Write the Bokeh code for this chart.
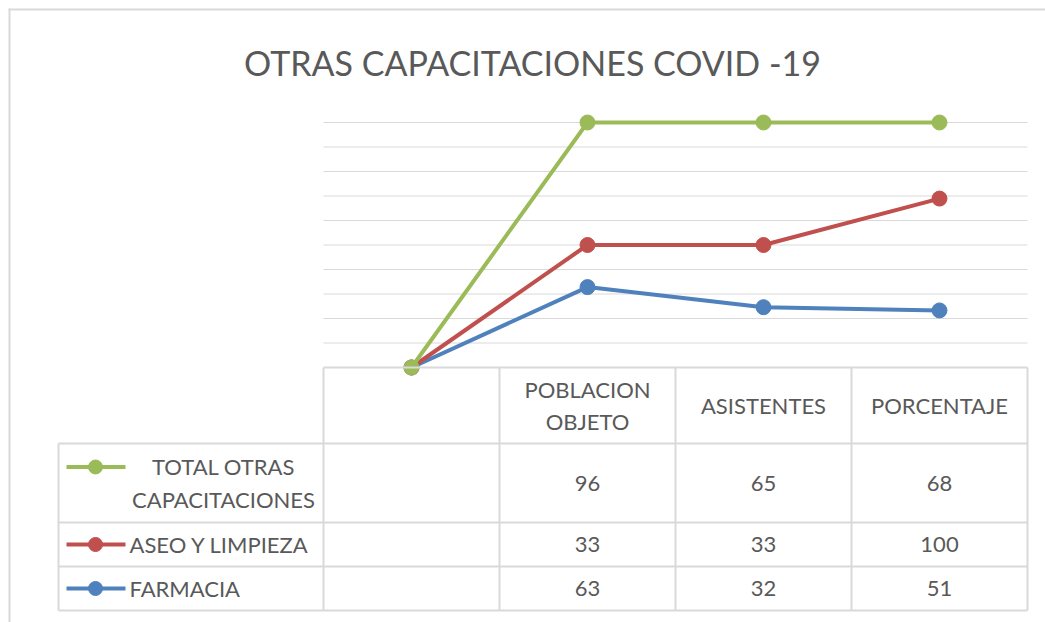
import textwrap
import numpy as np
from bokeh.plotting import figure
from bokeh.models import Range1d, ColumnDataSource
from bokeh.core.properties import value
from bokeh.embed import file_html
from bokeh.resources import INLINE

# ---------------- data ----------------
title = "OTRAS CAPACITACIONES COVID -19"
categories = ["", "POBLACION OBJETO", "ASISTENTES", "PORCENTAJE"]
series_names = ["TOTAL OTRAS CAPACITACIONES", "ASEO Y LIMPIEZA", "FARMACIA"]
total_otras = [None, 96, 65, 68]
aseo_limpieza = [None, 33, 33, 100]
farmacia = [None, 63, 32, 51]
series_values = [total_otras, aseo_limpieza, farmacia]
series_colors = ["#9BBB59", "#C0504D", "#4F81BD"]

# ---------------- layout helpers (pixel -> data) ----------------
W, H = 1045, 622
FL, FT = 8, 8          # chart border left / top (page px)
PX_X = 176.0           # pixels per category
PX_Y = 2.45            # pixels per percent
X0_PAGE = 323          # left of first category column (page px)
Y0_PAGE = 367          # 0 % line (page px)


def dx(page_x):
    return -0.5 + (page_x - X0_PAGE) / PX_X


def dy(page_y):
    return (Y0_PAGE - page_y) / PX_Y


p = figure(width=W, height=H, output_backend="svg", toolbar_location=None,
           x_range=Range1d(dx(0), dx(W)), y_range=Range1d(dy(H), dy(0)),
           x_axis_location=None, y_axis_location=None, min_border=0,
           background_fill_color="white", border_fill_color="white")
p.grid.visible = False
p.outline_line_color = None

FONT = value("Lato")
TXT = "#595959"
GRID = "#D9D9D9"
FS = "22px"
n = len(categories)
xs = np.arange(n)

# chart area border (left and top edges visible in the crop)
p.segment(x0=[dx(FL + 1), dx(FL)], x1=[dx(FL + 1), dx(W)],
          y0=[dy(FT), dy(FT + 1)], y1=[dy(H), dy(FT + 1)],
          line_color="#D9D9D9", line_width=2)

# ---------------- 100 % stacked values ----------------
vals = np.array([[0 if v is None else v for v in s] for s in series_values], dtype=float)
col_tot = vals.sum(axis=0)
safe = np.where(col_tot == 0, 1, col_tot)
stack = {}
cum = np.zeros(n)
for i in range(len(series_names) - 1, -1, -1):
    cum = cum + vals[i]
    stack[i] = np.where(col_tot == 0, 0, cum / safe * 100)

# ---------------- gridlines ----------------
gy = np.arange(10, 101, 10)
p.segment(x0=[-0.5] * len(gy), x1=[n - 0.5] * len(gy), y0=gy, y1=gy,
          line_color=GRID, line_width=1)

# ---------------- lines ----------------
for i in range(len(series_names) - 1, -1, -1):
    src = ColumnDataSource(dict(x=xs, y=stack[i]))
    p.line("x", "y", source=src, line_color=series_colors[i], line_width=4)
    p.scatter("x", "y", source=src, size=15, fill_color=series_colors[i],
              line_color=series_colors[i])

# ---------------- title ----------------
p.text(x=[dx(532)], y=[dy(62)], text=[title], text_font=FONT, text_font_size="34px",
       text_color=TXT, text_align="center", text_baseline="middle")

# ---------------- data table ----------------
row_edges = [367, 443, 522, 566, 610]
col_edges = [X0_PAGE + PX_X * k for k in range(n + 1)]
legend_left = 58

hx0, hx1, hy = [], [], []
for k, ry in enumerate(row_edges):
    hx0.append(dx(col_edges[0]) if k == 0 else dx(legend_left))
    hx1.append(dx(col_edges[-1]))
    hy.append(dy(ry))
p.segment(x0=hx0, x1=hx1, y0=hy, y1=hy, line_color=GRID, line_width=2)
vx, vy0, vy1 = [], [], []
for cx in col_edges:
    vx.append(dx(cx)); vy0.append(dy(row_edges[0])); vy1.append(dy(row_edges[-1]))
vx.append(dx(legend_left)); vy0.append(dy(row_edges[1])); vy1.append(dy(row_edges[-1]))
p.segment(x0=vx, x1=vx, y0=vy0, y1=vy1, line_color=GRID, line_width=2)

hdr = ["\n".join(textwrap.wrap(c, 12)) for c in categories]
p.text(x=xs, y=[dy(405)] * n, text=hdr, text_font=FONT, text_font_size=FS,
       text_color=TXT, text_align="center", text_baseline="middle",
       text_line_height=1.2)

row_centers = [(row_edges[k + 1] + row_edges[k + 2]) / 2 for k in range(len(series_names))]
for i, name in enumerate(series_names):
    cy = dy(row_centers[i])
    txt = ["" if v is None else str(v) for v in series_values[i]]
    p.text(x=xs, y=[cy] * n, text=txt, text_font=FONT, text_font_size=FS,
           text_color=TXT, text_align="center", text_baseline="middle")
    lines = textwrap.wrap(name, 16)
    key_y = cy if len(lines) == 1 else dy(row_centers[i] - 16)
    p.segment(x0=[dx(66)], x1=[dx(125)], y0=[key_y], y1=[key_y],
              line_color=series_colors[i], line_width=4)
    p.scatter(x=[dx(95)], y=[key_y], size=14, fill_color=series_colors[i],
              line_color=series_colors[i])
    if len(lines) == 1:
        p.text(x=[dx(129)], y=[cy], text=[name], text_font=FONT, text_font_size=FS,
               text_color=TXT, text_align="left", text_baseline="middle")
    else:
        p.text(x=[dx(223)], y=[cy], text=["\n".join(lines)], text_font=FONT,
               text_font_size=FS, text_color=TXT, text_align="center",
               text_baseline="middle", text_line_height=1.2)

open("out.html", "w").write(file_html(p, INLINE))
